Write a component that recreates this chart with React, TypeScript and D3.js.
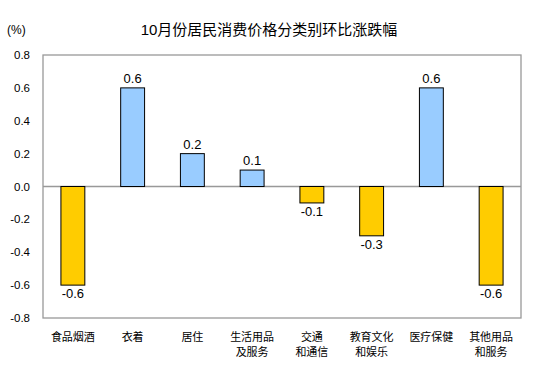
import * as d3 from "d3"
import React from "react"

const categories = [
  ["食品烟酒"],
  ["衣着"],
  ["居住"],
  ["生活用品", "及服务"],
  ["交通", "和通信"],
  ["教育文化", "和娱乐"],
  ["医疗保健"],
  ["其他用品", "和服务"],
]
const values = [-0.6, 0.6, 0.2, 0.1, -0.1, -0.3, 0.6, -0.6]
const yTicks = [0.8, 0.6, 0.4, 0.2, 0.0, -0.2, -0.4, -0.6, -0.8]

const width = 554,
  height = 384
const margin = { top: 55, right: 33, bottom: 66, left: 43 }
const font = "'Liberation Sans', Arial, 'Noto Sans CJK SC', sans-serif"

// plain hyphen minus, like the reference
const fmt = (v: number) => v.toFixed(1)

export default function App() {
  const x = d3
    .scaleBand<number>()
    .domain(d3.range(categories.length))
    .range([margin.left, width - margin.right])
    .paddingInner(0.6)
    .paddingOuter(0.3)

  const y = d3
    .scaleLinear()
    .domain([-0.8, 0.8])
    .range([height - margin.bottom, margin.top])

  return (
    <svg
      width={width}
      height={height}
      style={{ position: "absolute", left: 0, top: 0, background: "#fff" }}
      fontFamily={font}
    >
      <text x={269} y={35} textAnchor="middle" fontSize={15} fill="#000">
        10月份居民消费价格分类别环比涨跌幅
      </text>
      <text x={7} y={34} fontSize={12} fill="#000">
        (%)
      </text>

      {/* plot frame */}
      <rect
        x={margin.left}
        y={margin.top}
        width={width - margin.left - margin.right}
        height={height - margin.top - margin.bottom}
        fill="none"
        stroke="#999"
        strokeWidth={1.3}
      />
      <line
        x1={margin.left}
        x2={width - margin.right}
        y1={y(0)}
        y2={y(0)}
        stroke="#999"
        strokeWidth={1.3}
      />

      {yTicks.map((t) => (
        <text
          key={t}
          x={30}
          y={y(t) + 4}
          textAnchor="end"
          fontSize={11.5}
          fill="#000"
        >
          {fmt(t)}
        </text>
      ))}

      {values.map((v, i) => {
        const top = y(Math.max(0, v))
        const h = Math.abs(y(v) - y(0))
        const cx = x(i)! + x.bandwidth() / 2
        return (
          <g key={i}>
            <rect
              x={x(i)}
              y={top}
              width={x.bandwidth()}
              height={h}
              fill={v < 0 ? "#FFCC00" : "#99CCFF"}
              stroke="#000"
              strokeWidth={1}
            />
            <text
              x={cx}
              y={v < 0 ? y(v) + 13 : y(v) - 5}
              textAnchor="middle"
              fontSize={13}
              fill="#000"
            >
              {fmt(v)}
            </text>
          </g>
        )
      })}

      {categories.map((lines, i) =>
        lines.map((l, j) => (
          <text
            key={i + "-" + j}
            x={x(i)! + x.bandwidth() / 2}
            y={341 + j * 15}
            textAnchor="middle"
            fontSize={11}
            fill="#000"
            fontFamily="'Noto Sans CJK SC', sans-serif"
          >
            {l}
          </text>
        ))
      )}
    </svg>
  )
}
